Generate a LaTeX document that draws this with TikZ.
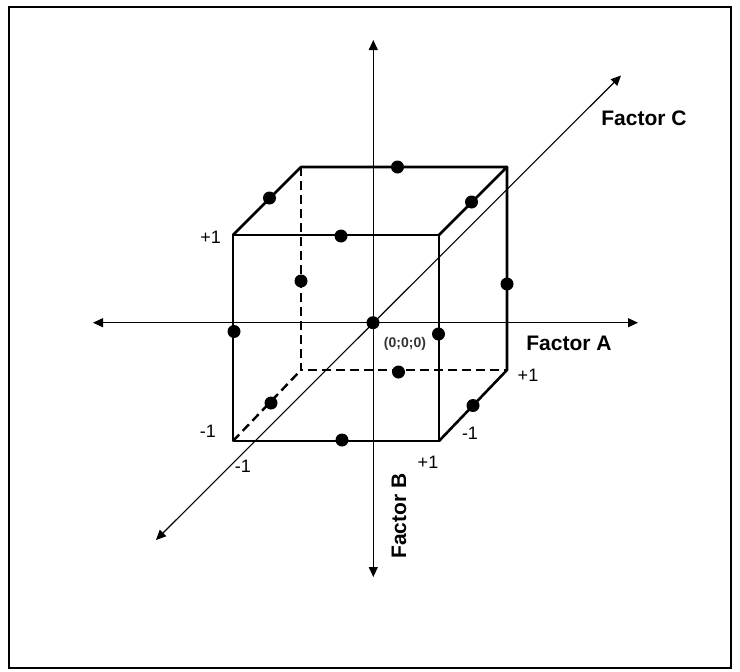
\documentclass[tikz,border=0pt]{standalone}
\usepackage{fontspec}
\setmainfont{Liberation Sans}
\usetikzlibrary{arrows.meta}
\tikzset{
  axisline/.style={line width=1.1pt,{Triangle[length=10pt,width=9pt]}-{Triangle[length=10pt,width=9pt]}},
  edge/.style={line width=2.6pt,line cap=round,line join=round},
  hidden/.style={line width=2.4pt,dash pattern=on 9pt off 5pt},
  pt/.style={circle,fill=black,inner sep=0pt,minimum size=13pt},
  lbl/.style={font=\fontsize{18}{18}\selectfont,inner sep=0pt},
  factor/.style={font=\fontsize{21}{21}\selectfont\bfseries,inner sep=0pt},
}
\begin{document}
\begin{tikzpicture}[x=1pt,y=-1pt]
\useasboundingbox (0,0) rectangle (740,672);
\draw[line width=2pt] (8.5,6.5) rectangle (731,668);
% axes
\coordinate (vt) at (373.3,40);
\coordinate (vb) at (373.3,577);
\coordinate (hl) at (93,322.7);
\coordinate (hr) at (638,322.7);
\coordinate (dl) at (156,540);
\coordinate (du) at (621,75.5);
\draw[axisline] (vb) -- (vt);
\draw[axisline] (hl) -- (hr);
\draw[axisline] (dl) -- (du);
% cube corners
\coordinate (F1) at (233,235);
\coordinate (F2) at (439,235);
\coordinate (F3) at (439,441);
\coordinate (F4) at (233,441);
\coordinate (B1) at (301,167);
\coordinate (B2) at (507,167);
\coordinate (B3) at (507,370);
\coordinate (B4) at (301,370);
\draw[hidden] (B1) -- (B4) -- (B3);
\draw[hidden] (F4) -- (B4);
\draw[edge] (F1) -- (F2) -- (F3) -- (F4) -- cycle;
\draw[edge] (F1) -- (B1) -- (B2) -- (F2);
\draw[edge] (B2) -- (B3) -- (F3);
% design points
\node[pt] (p1) at (397.5,167) {};
\node[pt] (p2) at (269.5,198) {};
\node[pt] (p3) at (471.5,202) {};
\node[pt] (p4) at (341,236) {};
\node[pt] (p5) at (301,281) {};
\node[pt] (p6) at (507,284) {};
\node[pt] (p0) at (373,322.7) {};
\node[pt] (p7) at (234,331.5) {};
\node[pt] (p8) at (438.5,334) {};
\node[pt] (p9) at (398.5,372) {};
\node[pt] (p10) at (271,403) {};
\node[pt] (p11) at (473,405.5) {};
\node[pt] (p12) at (342,440) {};
% labels
\node[lbl,anchor=east] (l1) at (221,237) {+1};
\node[lbl] (l2) at (208,431) {-1};
\node[lbl] (l3) at (243,466) {-1};
\node[lbl] (l4) at (470,433) {-1};
\node[lbl] (l5) at (528,375) {+1};
\node[lbl] (l6) at (428,462) {+1};
\node[font=\fontsize{14}{14}\selectfont\bfseries,text=black!80,inner sep=0pt] (o) at (405,344) {(0;0;0)};
\node[factor] (fa) at (569,343) {Factor A};
\node[factor,rotate=90] (fb) at (399,516) {Factor B};
\node[factor] (fc) at (644,118) {Factor C};
\end{tikzpicture}
\end{document}
